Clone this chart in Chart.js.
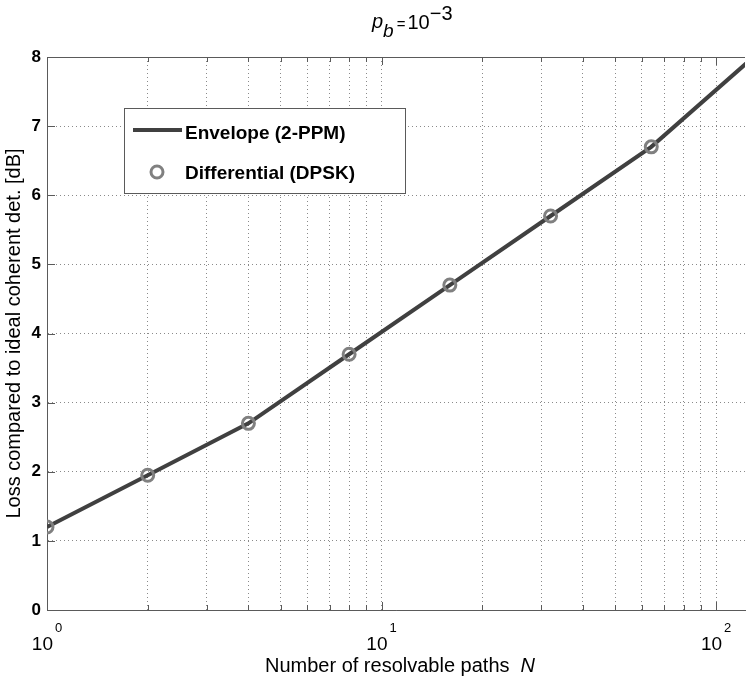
<!DOCTYPE html>
<html><head><meta charset="utf-8">
<script src="https://cdn.jsdelivr.net/npm/chart.js@4"></script>
<style>html,body{margin:0;padding:0;background:#fff;overflow:hidden}#wrap{width:754px;height:680px;position:relative}</style>
</head><body><div id="wrap"><canvas id="c" width="754" height="680"></canvas></div>
<script>
// ---- data ----
const envelopeN = [1, 2, 4, 8, 16, 32, 64, 128];
const envelopeLoss = [1.2, 1.95, 2.7, 3.7, 4.7, 5.7, 6.7, 7.98];
const dpskN = [1, 2, 4, 8, 16, 32, 64];
const dpskLoss = [1.2, 1.95, 2.7, 3.7, 4.7, 5.7, 6.7];
const yTicks = [0, 1, 2, 3, 4, 5, 6, 7, 8];
const xGridTicks = [1,2,3,4,5,6,7,8,9,10,20,30,40,50,60,70,80,90,100];
const xMajorTicks = [1, 10, 100];
const xMajorExp = ['0', '1', '2'];
const legendLabels = ['Envelope (2-PPM)', 'Differential (DPSK)'];
const xTitle = 'Number of resolvable paths  ';
const xTitleVar = 'N';
const yTitle = 'Loss compared to ideal coherent det. [dB]';

const FONT = '"Liberation Sans", Arial, Helvetica, sans-serif';
const AXIS_COLOR = '#5a5a5a';
const LINE_COLOR = '#404040';
const MARK_COLOR = '#808080';

const decor = {
  id: 'decor',
  afterDraw(chart) {
    const ctx = chart.ctx;
    const a = chart.chartArea;
    const xs = chart.scales.x, ys = chart.scales.y;
    ctx.save();
    // top border
    ctx.strokeStyle = AXIS_COLOR; ctx.lineWidth = 1;
    ctx.beginPath(); ctx.moveTo(a.left, a.top + 0.5); ctx.lineTo(a.right, a.top + 0.5); ctx.stroke();
    // inward tick marks
    ctx.beginPath();
    xGridTicks.forEach(v => {
      const px = Math.round(xs.getPixelForValue(v)) + 0.5;
      const len = xMajorTicks.includes(v) ? 8 : 5;
      ctx.moveTo(px, a.bottom); ctx.lineTo(px, a.bottom - len);
      ctx.moveTo(px, a.top); ctx.lineTo(px, a.top + len);
    });
    yTicks.forEach(v => {
      const py = Math.round(ys.getPixelForValue(v)) + 0.5;
      ctx.moveTo(a.left, py); ctx.lineTo(a.left + 8, py);
    });
    ctx.stroke();
    // x tick labels 10^k
    ctx.fillStyle = '#000';
    ctx.textBaseline = 'alphabetic';
    ctx.textAlign = 'left';
    xMajorTicks.forEach((v, i) => {
      const px = xs.getPixelForValue(v);
      ctx.font = '19px ' + FONT;
      const w1 = ctx.measureText('10').width;
      ctx.font = '13px ' + FONT;
      const w2 = ctx.measureText(xMajorExp[i]).width;
      const x0 = px - (w1 + 2 + w2) / 2;
      ctx.font = '19px ' + FONT;
      ctx.fillText('10', x0, 650);
      ctx.font = '13px ' + FONT;
      ctx.fillText(xMajorExp[i], x0 + w1 + 2, 632);
    });
    // x title
    ctx.font = '20px ' + FONT;
    const tw1 = ctx.measureText(xTitle).width;
    ctx.font = 'italic 20px ' + FONT;
    const tw2 = ctx.measureText(xTitleVar).width;
    const tx = 400 - (tw1 + tw2) / 2;
    ctx.font = '20px ' + FONT;
    ctx.fillText(xTitle, tx, 672);
    ctx.font = 'italic 20px ' + FONT;
    ctx.fillText(xTitleVar, tx + tw1, 672);
    // main title  p_b = 10^-3
    let x = 372;
    ctx.font = 'italic 20px ' + FONT;
    ctx.fillText('p', x, 28); x += ctx.measureText('p').width;
    ctx.font = 'italic 19px ' + FONT;
    ctx.fillText('b', x, 37); x += ctx.measureText('b').width + 3;
    ctx.font = '15px ' + FONT;
    ctx.fillText('=', x, 29); x += ctx.measureText('=').width + 2;
    ctx.font = '20px ' + FONT;
    ctx.fillText('10', x, 29); x += ctx.measureText('10').width;
    ctx.fillText('\u22123', x, 20);
    // legend
    const L = 124, T = 108, R = 405, B = 193;
    ctx.fillStyle = '#fff';
    ctx.fillRect(L, T, R - L, B - T);
    ctx.strokeStyle = AXIS_COLOR; ctx.lineWidth = 1;
    ctx.strokeRect(L + 0.5, T + 0.5, R - L, B - T);
    ctx.strokeStyle = LINE_COLOR; ctx.lineWidth = 4;
    ctx.beginPath(); ctx.moveTo(133, 130); ctx.lineTo(182, 130); ctx.stroke();
    ctx.strokeStyle = MARK_COLOR; ctx.lineWidth = 3;
    ctx.beginPath(); ctx.arc(157, 172, 6, 0, Math.PI * 2); ctx.stroke();
    ctx.fillStyle = '#000';
    ctx.font = 'bold 19px ' + FONT;
    ctx.textBaseline = 'middle';
    ctx.fillText(legendLabels[0], 185, 134);
    ctx.fillText(legendLabels[1], 185, 174);
    ctx.restore();
  }
};

new Chart(document.getElementById('c'), {
  type: 'line',
  data: {
    datasets: [
      {
        label: legendLabels[1],
        data: dpskN.map((n, i) => ({x: n, y: dpskLoss[i]})),
        showLine: false,
        pointStyle: 'circle',
        pointRadius: 6,
        pointBorderWidth: 3,
        pointBorderColor: MARK_COLOR,
        pointBackgroundColor: 'rgba(0,0,0,0)',
        order: 0
      },
      {
        label: legendLabels[0],
        data: envelopeN.map((n, i) => ({x: n, y: envelopeLoss[i]})),
        borderColor: LINE_COLOR,
        borderWidth: 4,
        pointRadius: 0,
        tension: 0,
        fill: false,
        order: 1
      }
    ]
  },
  options: {
    responsive: false,
    animation: false,
    devicePixelRatio: 1,
    layout: {padding: {top: 57, right: 0, left: 0, bottom: 0}},
    plugins: {legend: {display: false}, tooltip: {enabled: false}, title: {display: false}},
    scales: {
      x: {
        type: 'logarithmic',
        position: 'bottom',
        min: 1, max: 122,
        afterBuildTicks: s => { s.ticks = xGridTicks.map(v => ({value: v})); },
        afterFit: s => { s.height = 70; },
        ticks: {display: false},
        grid: {color: '#8a8a8a', lineWidth: 1, drawTicks: false},
        border: {color: AXIS_COLOR, width: 1, dash: [1, 3]}
      },
      y: {
        min: 0, max: 8,
        afterBuildTicks: s => { s.ticks = yTicks.map(v => ({value: v})); },
        afterFit: s => { s.width = 47; },
        ticks: {color: '#000', font: {family: FONT, size: 17, weight: 'bold'}, padding: 6},
        grid: {color: '#8a8a8a', lineWidth: 1, drawTicks: false},
        border: {color: AXIS_COLOR, width: 1, dash: [1, 3]},
        title: {display: true, text: yTitle, color: '#000', font: {family: FONT, size: 20}, padding: {top: 2, bottom: 0}}
      }
    }
  },
  plugins: [decor]
});
</script></body></html>
